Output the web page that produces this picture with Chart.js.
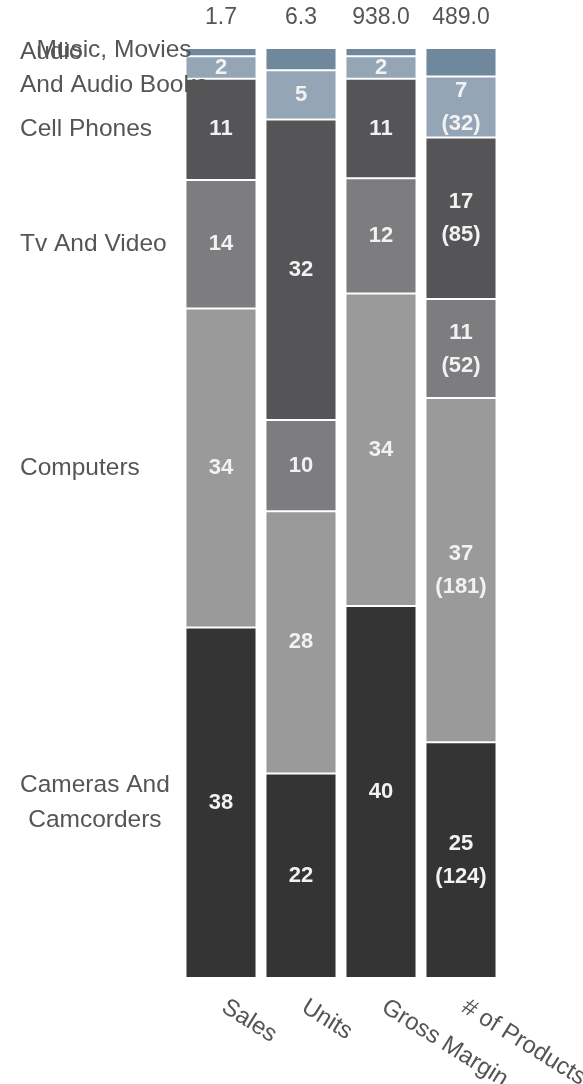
<!DOCTYPE html>
<html lang="en">
<head>
    <meta charset="UTF-8">
    <title>Category Share by Measure</title>
    <script src="https://cdn.jsdelivr.net/npm/chart.js@4.4.0/dist/chart.umd.min.js"></script>
    <style>
        body { margin: 0; background: #fff; font-family: "Liberation Sans", Arial, sans-serif; }
        .chart-container { width: 583px; height: 1084px; }
    </style>
</head>
<body>
    <div class="chart-container">
        <canvas id="shareChart" width="583" height="1084"></canvas>
    </div>

    <script>
        // measures along the x axis and their totals (shown above each bar)
        const measures = ['Sales', 'Units', 'Gross Margin', '# of Products'];
        const totals = [1.7, 6.3, 938.0, 489.0];

        // categories, bottom of the stack first
        const categories = ['Cameras And Camcorders', 'Computers', 'Tv And Video', 'Cell Phones', 'Music, Movies And Audio Books', 'Audio'];
        const colors = ['#343434', '#999a99', '#7d7d7f', '#555557', '#94a5b5', '#6f889c'];
        const showLabel = [true, true, true, true, true, false];

        // percent share per category
        const salesPct = [37.7, 34.3, 13.8, 10.9, 2.4, 0.9];
        const unitsPct = [22.0, 28.2, 9.8, 32.3, 5.3, 2.4];
        const marginPct = [40.0, 33.6, 12.4, 10.7, 2.4, 0.9];
        // product counts per category
        const productCounts = [124, 181, 52, 85, 32, 15];

        const productTotal = productCounts.reduce((a, b) => a + b, 0);
        const productPct = productCounts.map(c => c / productTotal * 100);

        const datasets = categories.map((name, i) => ({
            label: name,
            data: [salesPct[i], unitsPct[i], marginPct[i], productPct[i]],
            backgroundColor: colors[i],
            borderColor: 'rgba(255,255,255,0.55)',
            borderWidth: 1,
            borderSkipped: false,
            barPercentage: 0.95,
            categoryPercentage: 0.935
        }));

        function wrapText(ctx, text, maxWidth) {
            const words = text.split(' ');
            const lines = [];
            let line = '';
            words.forEach(w => {
                const test = line ? line + ' ' + w : w;
                if (line && ctx.measureText(test).width > maxWidth) {
                    lines.push(line);
                    line = w;
                } else {
                    line = test;
                }
            });
            if (line) lines.push(line);
            return lines;
        }

        const annotate = {
            id: 'annotate',
            afterDatasetsDraw(chart) {
                const ctx = chart.ctx;
                const xs = chart.scales.x;
                const area = chart.chartArea;
                ctx.save();

                // values inside segments
                ctx.fillStyle = '#f2f2f2';
                ctx.font = 'bold 22px "Liberation Sans", Arial, sans-serif';
                ctx.textAlign = 'center';
                ctx.textBaseline = 'middle';
                chart.data.datasets.forEach((ds, di) => {
                    if (!showLabel[di]) return;
                    chart.getDatasetMeta(di).data.forEach((bar, i) => {
                        const yc = (bar.y + bar.base) / 2;
                        const txt = String(Math.round(ds.data[i]));
                        if (i === 3) {
                            ctx.fillText(txt, bar.x, yc - 16);
                            ctx.fillText('(' + productCounts[di] + ')', bar.x, yc + 17);
                        } else {
                            ctx.fillText(txt, bar.x, yc);
                        }
                    });
                });

                // totals above bars
                ctx.fillStyle = '#555';
                ctx.font = '23px "Liberation Sans", Arial, sans-serif';
                totals.forEach((t, i) => {
                    ctx.fillText(t.toFixed(1), xs.getPixelForValue(i), 18);
                });

                // category names beside the first bar
                ctx.font = '24.5px "Liberation Sans", Arial, sans-serif';
                categories.forEach((name, di) => {
                    const bar = chart.getDatasetMeta(di).data[0];
                    const yc = (bar.y + bar.base) / 2;
                    const lines = wrapText(ctx, name, 190);
                    const w = Math.max(...lines.map(l => ctx.measureText(l).width));
                    const cx = 20 + w / 2;
                    const lh = 35;
                    lines.forEach((l, k) => {
                        ctx.fillText(l, cx, yc + (k - (lines.length - 1) / 2) * lh);
                    });
                });

                // rotated measure names below bars
                ctx.font = '24px "Liberation Sans", Arial, sans-serif';
                ctx.textAlign = 'left';
                ctx.textBaseline = 'top';
                measures.forEach((m, i) => {
                    ctx.save();
                    ctx.translate(xs.getPixelForValue(i) + 9, area.bottom + 17);
                    ctx.rotate(32 * Math.PI / 180);
                    ctx.fillText(m, 0, 0);
                    ctx.restore();
                });

                ctx.restore();
            }
        };

        new Chart(document.getElementById('shareChart').getContext('2d'), {
            type: 'bar',
            data: { labels: measures, datasets: datasets },
            options: {
                responsive: false,
                animation: false,
                layout: { padding: { left: 181, right: 82, top: 48, bottom: 106 } },
                plugins: { legend: { display: false }, tooltip: { enabled: false } },
                scales: {
                    x: { stacked: true, display: false },
                    y: { stacked: true, display: false, min: 0, max: 100 }
                }
            },
            plugins: [annotate]
        });
    </script>
</body>
</html>
